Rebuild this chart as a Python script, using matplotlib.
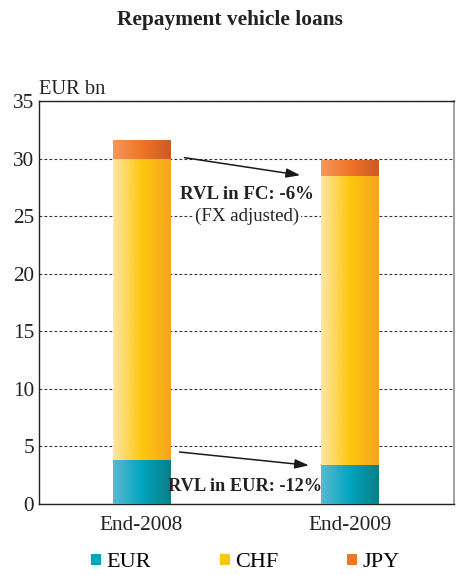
import numpy as np
import matplotlib.pyplot as plt
from matplotlib.patches import Patch
from matplotlib.colors import LinearSegmentedColormap

plt.rcParams['font.family'] = ['Liberation Serif', 'DejaVu Serif']

categories = ["End-2008", "End-2009"]
eur = [3.85, 3.38]
chf = [26.1, 25.15]
jpy = [1.6, 1.37]
series = ["EUR", "CHF", "JPY"]

# left / middle / right shades for the horizontal gradient of each segment
shades = {
    "EUR": ["#5bb8d0", "#00a5c0", "#0a7f86"],
    "CHF": ["#fee7a6", "#fec70e", "#f7a51f"],
    "JPY": ["#f4985c", "#ef7426", "#cc5a28"],
}

fig = plt.figure(figsize=(4.57, 5.75), dpi=100)
ax = fig.add_axes([0.0853, 0.1235, 0.9081, 0.7008])

x = np.arange(len(categories))
w = 0.274
grad = np.linspace(0, 1, 64).reshape(1, -1)
bottom = np.zeros(len(categories))
for name, vals in zip(series, [eur, chf, jpy]):
    bars = ax.bar(x, vals, w, bottom=bottom, color=shades[name][1], zorder=2)
    cmap = LinearSegmentedColormap.from_list(name, shades[name])
    for b in bars:
        x0, y0 = b.get_x(), b.get_y()
        ax.imshow(grad, cmap=cmap, aspect="auto", zorder=3,
                  extent=[x0, x0 + b.get_width(), y0, y0 + b.get_height()])
    bottom += np.array(vals)

ax.set_xlim(-0.492, 1.5)
ax.set_ylim(0, 35)
ax.set_yticks(np.arange(0, 36, 5))
ax.set_xticks(x)
ax.set_xticklabels(categories)
ax.tick_params(length=0, labelsize=15.3, colors="#222222")
ax.tick_params(axis="y", pad=3.5)
ax.tick_params(axis="x", pad=9)
ax.yaxis.grid(True, linestyle=(0, (2.5, 2)), color="#333333", lw=0.8, zorder=0)
ax.set_axisbelow(True)
for s in ["left", "bottom", "top"]:
    ax.spines[s].set_color("#222222")
    ax.spines[s].set_linewidth(1.0)
ax.spines["right"].set_color("#999999")
ax.spines["right"].set_linewidth(1.3)

# annotations
ax.annotate("", xy=(0.775, 28.52), xytext=(0.193, 30.12),
            arrowprops=dict(arrowstyle="-|>,head_length=0.6,head_width=0.2",
                            color="#1a1a1a", lw=1.1, mutation_scale=14), zorder=5)
ax.annotate("", xy=(0.817, 3.33), xytext=(0.169, 4.54),
            arrowprops=dict(arrowstyle="-|>,head_length=0.6,head_width=0.2",
                            color="#1a1a1a", lw=1.1, mutation_scale=14), zorder=5)
ax.text(0.506, 26.85, "RVL in FC: -6%", ha="center", va="center",
        fontsize=13.6, fontweight="bold", color="#222222", zorder=6)
ax.text(0.506, 24.96, "(FX adjusted)", ha="center", va="center",
        fontsize=13.6, color="#222222", zorder=6,
        bbox=dict(fc="white", ec="none", pad=1.5))
ax.text(0.497, 1.48, "RVL in EUR: -12%", ha="center", va="center",
        fontsize=13.2, fontweight="bold", color="#222222", zorder=6)

fig.text(0.085, 0.8365, "EUR bn", fontsize=14.8, color="#222222", va="baseline")
fig.text(0.503, 0.966, "Repayment vehicle loans", ha="center", va="center",
         fontsize=15.4, fontweight="bold", color="#222222")

handles = [Patch(facecolor=shades[n][1], edgecolor="none") for n in series]
fig.legend(handles, series, loc="center", bbox_to_anchor=(0.537, 0.021),
           ncol=3, frameon=False, fontsize=16, handlelength=0.45,
           handleheight=0.45, handletextpad=0.23, columnspacing=3.1)

fig.savefig("out.png", dpi=100)
